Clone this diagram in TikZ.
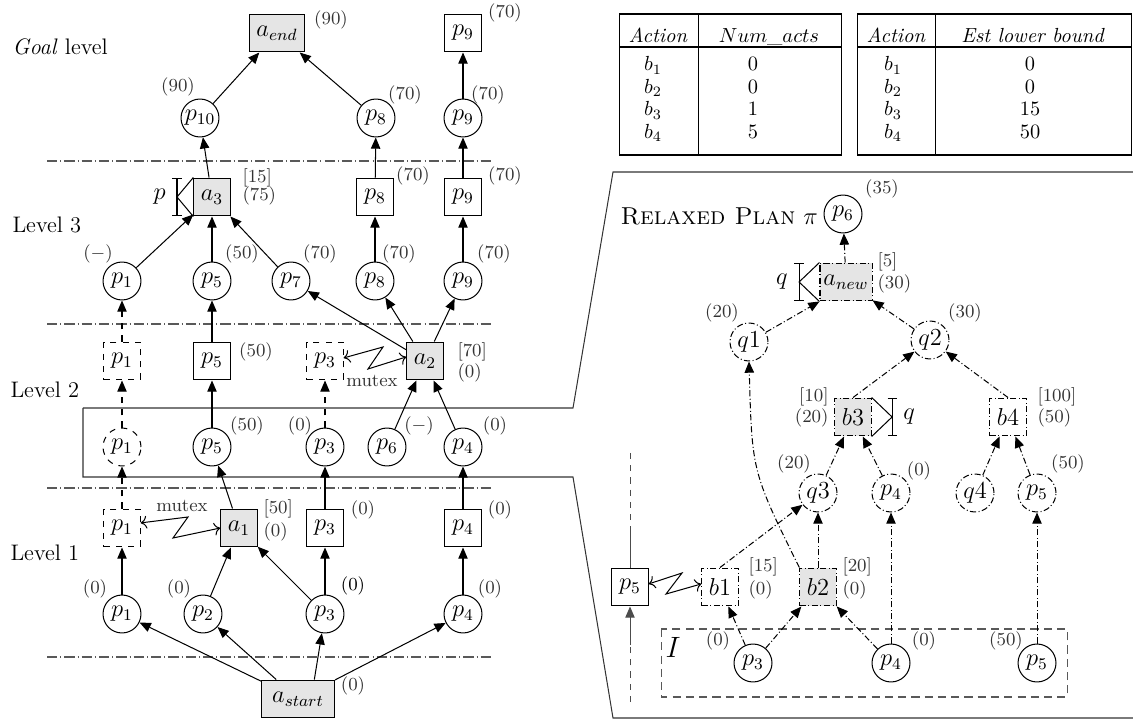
\documentclass[tikz,border=0pt]{standalone}
\usepackage{amsmath}
\usetikzlibrary{arrows.meta,positioning}

\begin{document}
\begin{tikzpicture}[x=0.49pt,y=-0.49pt,line width=0.5pt,>={Triangle[length=5.5pt,width=4.6pt]},
  fact/.style={draw,circle,minimum size=18.6pt,inner sep=0pt,font=\large},
  act/.style={draw,minimum width=17.8pt,minimum height=18.6pt,inner sep=1pt,font=\large},
  gact/.style={act,fill=black!10},
  cost/.style={font=\small,inner sep=0pt,text=black!80},
  lvl/.style={anchor=west,inner sep=0pt,font=\fontsize{11}{13}\selectfont},
  sep/.style={black!65,dash pattern=on 5pt off 1.5pt on 0.5pt off 1.5pt},
  rel/.style={dash pattern=on 3pt off 1.2pt on 0.5pt off 1.2pt},
  mtx/.style={{To[length=3pt]}-{To[length=3pt]}},
  brk/.style={{Bar[width=4.5pt]}-{Bar[width=4.5pt]}}]
  \useasboundingbox (0,0) rectangle (1133,721);

  % levels
  \node[lvl] (lgoal) at (12,47) {\textit{Goal} level};
  \node[lvl] (l3) at (12,225) {Level 3};
  \node[lvl] (l2) at (10,390) {Level 2};
  \node[lvl] (l1) at (10,553) {Level 1};
  \foreach \y in {161,324,488,657}
    \draw[sep] (47,\y) -- (493,\y);

  % zoom outline
  \draw[black!80] (83,408) -- (573,408) -- (613,172) -- (1133,172);
  \draw[black!80] (83,408) -- (83,477) -- (573,477) -- (613,718) -- (1133,718);

  % goal level
  \node[gact,minimum width=26.5pt] (aend) at (277,33) {$a_{end}$};
  \node[act] (g9b) at (463,33) {$p_9$};
  \node[fact] (g10) at (200,118) {$p_{10}$};
  \node[fact] (g8) at (376,118) {$p_8$};
  \node[fact] (g9) at (463,118) {$p_9$};
  \node[cost] (caend) at (331,20) {(90)};
  \node[cost] (cg9b) at (505,13) {(70)};
  \node[cost] (cg10) at (178,87) {(90)};
  \node[cost] (cg8) at (405,95) {(70)};
  \node[cost] (cg9) at (488,95) {(70)};
  \draw[->] (g10) -- (aend);
  \draw[->] (g8) -- (aend);
  \draw[->] (g9) -- (g9b);

  % level 3
  \node[gact] (a3) at (212,197) {$a_3$};
  \node[act] (b8) at (375,197) {$p_8$};
  \node[act] (b9) at (463,197) {$p_9$};
  \node[cost,anchor=west] (a3u) at (242,178) {[15]};
  \node[cost,anchor=west] (a3c) at (242,196) {(75)};
  \node[cost] (cb8) at (413,176) {(70)};
  \node[cost] (cb9) at (505,176) {(70)};
  \draw[brk] ([xshift=-8pt]a3.north west) -- ([xshift=-8pt]a3.south west);
  \draw (a3.north west) -- ([xshift=-8pt]a3.west) -- (a3.south west);
  \node[left=2pt,font=\large] (pa3) at ([xshift=-8pt]a3.west) {$p$};
  \draw[->] (a3) -- (g10);
  \draw[->] (b8) -- (g8);
  \draw[->] (b9) -- (g9);

  \foreach \n/\x in {1/122,5/212,7/291,8/375,9/463}
    \node[fact] (t\n) at (\x,281) {$p_\n$};
  \node[cost] (ct1) at (98,254) {($-$)};
  \node[cost] (ct5) at (242,254) {(50)};
  \node[cost] (ct7) at (320,254) {(70)};
  \node[cost] (ct8) at (399,254) {(70)};
  \node[cost] (ct9) at (494,254) {(70)};
  \draw[->] (t1) -- (a3);
  \draw[->] (t5) -- (a3);
  \draw[->] (t7) -- (a3);
  \draw[->] (t8) -- (b8);
  \draw[->] (t9) -- (b9);

  % level 2
  \node[act,dashed] (s1) at (122,361) {$p_1$};
  \node[act] (s5) at (212,361) {$p_5$};
  \node[act,dashed] (s3) at (325,361) {$p_3$};
  \node[gact] (a2) at (425,361) {$a_2$};
  \node[cost] (cs5) at (256,352) {(50)};
  \node[cost,anchor=west] (a2u) at (457,352) {[70]};
  \node[cost,anchor=west] (a2c) at (457,373) {(0)};
  \node[cost] (mx2) at (372,381) {mutex};
  \draw[mtx] ([yshift=1.5pt]s3.east) -- (383,347) -- (368,369) -- ([yshift=2pt]a2.west);
  \draw[dashed,->] (s1) -- (t1);
  \draw[->] (s5) -- (t5);
  \draw[->] (a2) -- (t7);
  \draw[->] (a2) -- (t8);
  \draw[->] (a2) -- (t9);

  \node[fact,dashed] (r1) at (122,447) {$p_1$};
  \node[fact] (r5) at (212,447) {$p_5$};
  \node[fact] (r3) at (325,447) {$p_3$};
  \node[fact] (r6) at (387,447) {$p_6$};
  \node[fact] (r4) at (463,447) {$p_4$};
  \node[cost] (cr5) at (247,426) {(50)};
  \node[cost] (cr3) at (300,426) {(0)};
  \node[cost] (cr6) at (419,426) {($-$)};
  \node[cost] (cr4) at (495,426) {(0)};
  \draw[dashed,->] (r1) -- (s1);
  \draw[->] (r5) -- (s5);
  \draw[dashed,->] (r3) -- (s3);
  \draw[->] (r6) -- (a2);
  \draw[->] (r4) -- (a2);

  % level 1
  \node[act,dashed] (u1) at (122,528) {$p_1$};
  \node[gact] (a1) at (239,528) {$a_1$};
  \node[act] (u3) at (325,528) {$p_3$};
  \node[act] (u4) at (463,528) {$p_4$};
  \node[cost,anchor=west] (a1u) at (263,509) {[50]};
  \node[cost,anchor=west] (a1c) at (263,532) {(0)};
  \node[cost] (cu3) at (363,510) {(0)};
  \node[cost] (cu4) at (500,510) {(0)};
  \node[cost] (mx1) at (182,506) {mutex};
  \draw[mtx] ([yshift=2.5pt]u1.east) -- (188,517) -- (173,538) -- (a1.west);
  \draw[dashed,->] (u1) -- (r1);
  \draw[->] (a1) -- (r5);
  \draw[->] (u3) -- (r3);
  \draw[->] (u4) -- (r4);

  \node[fact] (v1) at (122,614) {$p_1$};
  \node[fact] (v2) at (203,614) {$p_2$};
  \node[fact] (v3) at (325,614) {$p_3$};
  \node[fact] (v4) at (463,614) {$p_4$};
  \node[cost] (cv1) at (95,589) {(0)};
  \node[cost] (cv2) at (179,589) {(0)};
  \node[cost,text=black] (cv3) at (353,586) {(0)};
  \node[cost] (cv4) at (490,589) {(0)};
  \draw[->] (v1) -- (u1);
  \draw[->] (v2) -- (a1);
  \draw[->] (v3) -- (a1);
  \draw[->] (v3) -- (u3);
  \draw[->] (v4) -- (u4);

  \node[gact,minimum width=35.8pt] (as) at (298,699) {$a_{start}$};
  \node[cost] (cas) at (353,686) {(0)};
  \draw[->] (as) -- (v1);
  \draw[->] (as) -- (v2);
  \draw[->] ([xshift=8pt]as.north) -- (v3);
  \draw[->] (as) -- (v4);

  % tables
  \draw (619,14) rectangle (841,155);
  \draw (619,47) -- (841,47);
  \draw (698,14) -- (698,155);
  \draw (857,14) rectangle (1131,155);
  \draw (857,47) -- (1131,47);
  \draw (935,14) -- (935,155);
  \node[anchor=base] (h1a) at (658,43) {\textit{Action}};
  \node[anchor=base] (h1b) at (769,43) {$Num\_acts$};
  \node[anchor=base] (h2a) at (896,43) {\textit{Action}};
  \node[anchor=base] (h2b) at (1033,43) {\textit{Est lower bound}};
  \foreach \u/\v [count=\i] in {0/0,0/0,1/15,5/50} {
    \node[anchor=base,inner sep=0pt] (t1b\i) at (653,{48.5+22.5*\i}) {$b_\i$};
    \node[anchor=base,inner sep=0pt] (t1n\i) at (753,{48.5+22.5*\i}) {$\u$};
    \node[anchor=base,inner sep=0pt] (t2b\i) at (893,{48.5+22.5*\i}) {$b_\i$};
    \node[anchor=base,inner sep=0pt] (t2n\i) at (1030,{48.5+22.5*\i}) {$\v$};
  }

  % relaxed plan
  \node[lvl] (rp) at (620,216) {\large\textsc{Relaxed Plan} $\pi$};
  \node[fact] (n6) at (843,214) {$p_6$};
  \node[cost] (cn6) at (882,189) {(35)};
  \node[gact,rel,minimum width=25.5pt] (anew) at (846,282) {$a_{new}$};
  \node[cost,anchor=west] (anu) at (877,262) {[5]};
  \node[cost,anchor=west] (anc) at (877,284) {(30)};
  \draw[brk] ([xshift=-10pt]anew.north west) -- ([xshift=-10pt]anew.south west);
  \draw (anew.north west) -- ([xshift=-10pt]anew.west) -- (anew.south west);
  \node[left=2pt,font=\large] (qan) at ([xshift=-10pt]anew.west) {$q$};

  \node[fact,rel] (q1) at (749,342) {$q1$};
  \node[fact,rel] (q2) at (930,340) {$q2$};
  \node[cost] (cq1) at (722,313) {(20)};
  \node[cost] (cq2) at (965,313) {(30)};

  \node[gact,rel] (b3) at (853,417) {$b3$};
  \node[act,rel] (b4) at (1008,417) {$b4$};
  \node[cost,anchor=east] (b3u) at (829,397) {[10]};
  \node[cost,anchor=east] (b3c) at (829,418) {(20)};
  \node[cost,anchor=west] (b4u) at (1037,397) {[100]};
  \node[cost,anchor=west] (b4c) at (1037,418) {(50)};
  \draw[brk] ([xshift=10pt]b3.north east) -- ([xshift=10pt]b3.south east);
  \draw (b3.north east) -- ([xshift=10pt]b3.east) -- (b3.south east);
  \node[right=2pt,font=\large] (qb3) at ([xshift=10pt]b3.east) {$q$};

  \node[fact,rel] (q3) at (818,493) {$q3$};
  \node[fact,rel] (x4) at (891,493) {$p_4$};
  \node[fact,rel] (q4) at (975,493) {$q4$};
  \node[fact,rel] (x5) at (1037,493) {$p_5$};
  \node[cost] (cq3) at (794,464) {(20)};
  \node[cost] (cx4) at (919,471) {(0)};
  \node[cost] (cx5) at (1068,464) {(50)};

  \node[act] (y5) at (630,587) {$p_5$};
  \node[act,rel] (b1) at (720,587) {$b1$};
  \node[gact,rel] (b2) at (818,587) {$b2$};
  \node[cost,anchor=west] (b1u) at (748,567) {[15]};
  \node[cost,anchor=west] (b1c) at (748,590) {(0)};
  \node[cost,anchor=west] (b2u) at (842,567) {[20]};
  \node[cost,anchor=west] (b2c) at (842,590) {(0)};
  \draw[mtx] ([yshift=1.5pt]y5.east) -- (682,573) -- (666,594) -- ([yshift=1.5pt]b1.west);

  \coordinate (y5t) at (630,453);
  \coordinate (y5m) at (630,533);
  \coordinate (y5b) at (630,702);
  \coordinate (y5n) at (630,645);
  \draw[dashed,black!70] (y5t) -- (y5m);
  \draw[black!70] (y5m) -- (y5);
  \draw[dashed,black!70] (y5b) -- (y5n);
  \draw[black!70,->] (y5n) -- (y5);

  % initial state
  \draw[dashed,black!65,dash pattern=on 4pt off 2.5pt] (661,629) rectangle (1067,697);
  \node (init) at (673,647) {\Large$I$};
  \node[fact] (i3) at (753,663) {$p_3$};
  \node[fact] (i4) at (891,663) {$p_4$};
  \node[fact] (i5) at (1037,663) {$p_5$};
  \node[cost] (ci3) at (718,641) {(0)};
  \node[cost] (ci4) at (924,641) {(0)};
  \node[cost] (ci5) at (1006,641) {(50)};

  \draw[rel,->] (anew) -- (n6);
  \draw[rel,->] (q1) -- (anew.south west);
  \draw[rel,->] (q2) -- (anew);
  \draw[rel,->] (b3.north) -- (q2);
  \draw[rel,->] (b4.north) -- (q2);
  \draw[rel,->] (q3) -- (b3);
  \draw[rel,->] (x4) -- (b3);
  \draw[rel,->] (q4) -- (b4);
  \draw[rel,->] (x5) -- (b4);
  \draw[rel,->] (b1.north) -- (q3);
  \draw[rel,->] (b2) -- (q3);
  \draw[rel,->] (b2.north west) .. controls (752,472) .. (q1.south);
  \draw[rel,->] (i3) -- (b1);
  \draw[rel,->] (i3) -- (b2);
  \draw[rel,->] (i4) -- (b2);
  \draw[rel,->] (i4) -- (x4);
  \draw[rel,->] (i5) -- (x5);
\end{tikzpicture}
\end{document}
